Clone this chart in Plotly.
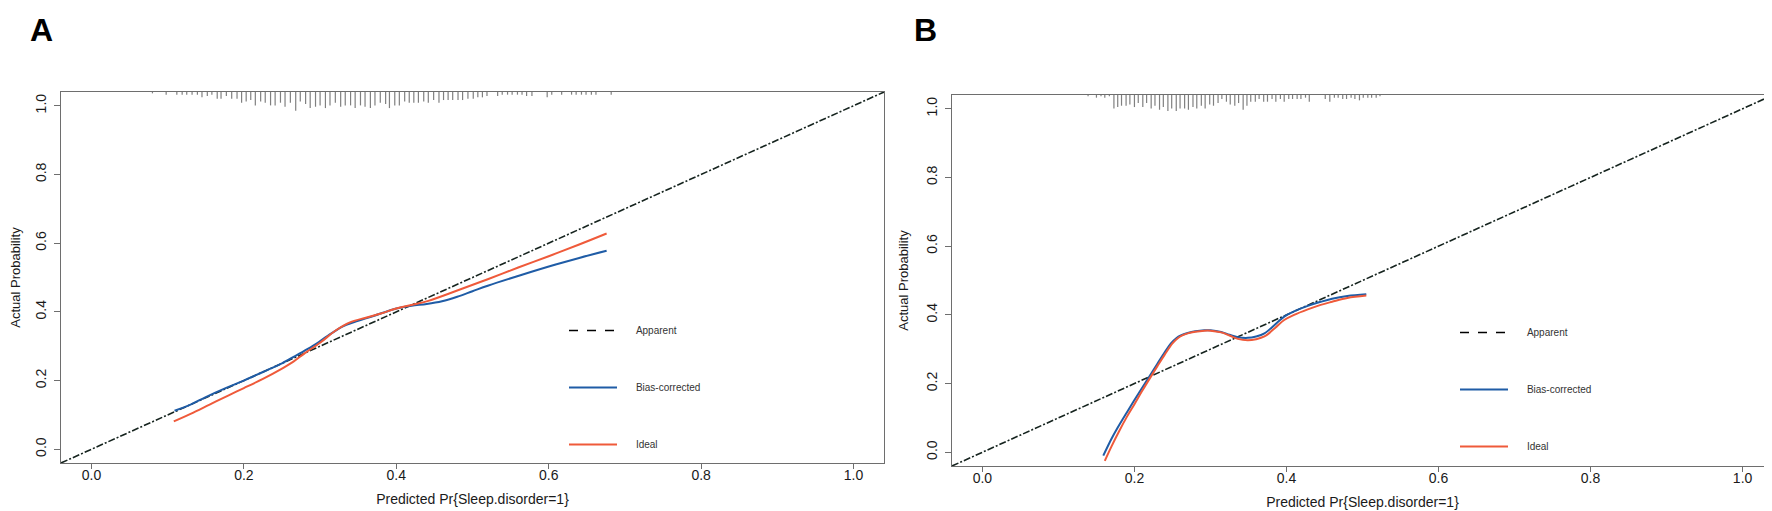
import plotly.graph_objects as go

# calibration curves, panel A
a_bias_x = [0.109, 0.13, 0.15, 0.176, 0.2, 0.225, 0.25, 0.27, 0.29, 0.31, 0.33, 0.345, 0.37, 0.40,
            0.42, 0.44, 0.46, 0.48, 0.50, 0.52, 0.565, 0.608, 0.64, 0.676]
a_bias_y = [0.112, 0.13, 0.152, 0.178, 0.2, 0.225, 0.25, 0.275, 0.30, 0.33, 0.358, 0.37, 0.388, 0.41,
            0.418, 0.423, 0.431, 0.444, 0.46, 0.476, 0.508, 0.537, 0.557, 0.578]
a_ideal_x = [0.108, 0.13, 0.155, 0.18, 0.2, 0.225, 0.25, 0.265, 0.28, 0.3, 0.32, 0.34, 0.36, 0.38,
             0.40, 0.42, 0.442, 0.48, 0.52, 0.56, 0.60, 0.64, 0.676]
a_ideal_y = [0.081, 0.103, 0.13, 0.157, 0.178, 0.205, 0.235, 0.255, 0.28, 0.31, 0.345, 0.37, 0.383, 0.395,
             0.41, 0.42, 0.432, 0.462, 0.495, 0.529, 0.562, 0.596, 0.628]

# calibration curves, panel B
b_bias_x = [0.159, 0.17, 0.178, 0.19, 0.20, 0.21, 0.22, 0.23, 0.24, 0.248, 0.255, 0.261, 0.27, 0.28,
            0.292, 0.30, 0.314, 0.325, 0.336, 0.349, 0.36, 0.371, 0.385, 0.397, 0.41, 0.428, 0.445,
            0.46, 0.48, 0.505]
b_bias_y = [-0.01, 0.04, 0.072, 0.116, 0.152, 0.187, 0.222, 0.257, 0.292, 0.317, 0.332, 0.340, 0.347, 0.352,
            0.355, 0.355, 0.35, 0.342, 0.335, 0.333, 0.337, 0.346, 0.372, 0.395, 0.41, 0.426, 0.438,
            0.447, 0.455, 0.46]
b_ideal_x = [0.161, 0.17, 0.18, 0.19, 0.20, 0.21, 0.221, 0.23, 0.24, 0.25, 0.257, 0.263, 0.27, 0.28,
             0.292, 0.30, 0.314, 0.325, 0.336, 0.349, 0.36, 0.371, 0.385, 0.397, 0.41, 0.428, 0.445,
             0.46, 0.48, 0.505]
b_ideal_y = [-0.025, 0.018, 0.062, 0.103, 0.14, 0.178, 0.218, 0.25, 0.285, 0.317, 0.332, 0.340, 0.346, 0.351,
             0.354, 0.354, 0.349, 0.34, 0.330, 0.326, 0.329, 0.337, 0.362, 0.385, 0.40, 0.416, 0.429,
             0.438, 0.449, 0.456]

# rug of predicted probabilities (position, relative frequency)
a_rug_x = [0.080, 0.098, 0.112, 0.119, 0.125, 0.132, 0.139, 0.145, 0.152, 0.158, 0.165, 0.170, 0.177,
           0.184, 0.191, 0.197, 0.203, 0.209, 0.215, 0.222, 0.228, 0.235, 0.241, 0.248, 0.254, 0.261,
           0.268, 0.274, 0.281, 0.287, 0.294, 0.300, 0.307, 0.313, 0.320, 0.327, 0.333, 0.340, 0.346,
           0.353, 0.359, 0.366, 0.372, 0.379, 0.386, 0.391, 0.398, 0.404, 0.411, 0.417, 0.423, 0.429,
           0.436, 0.442, 0.449, 0.456, 0.462, 0.468, 0.474, 0.481, 0.487, 0.494, 0.501, 0.507, 0.513,
           0.519, 0.533, 0.539, 0.546, 0.552, 0.559, 0.565, 0.571, 0.578, 0.598, 0.604, 0.617, 0.630,
           0.636, 0.643, 0.649, 0.656, 0.662, 0.682]
a_rug_n = [1, 2, 2, 2, 2, 2, 2, 4, 3, 2, 5, 5, 3,
           5, 5, 8, 7, 6, 10, 7, 8, 10, 10, 8, 11, 8,
           14, 7, 9, 12, 11, 10, 12, 10, 8, 11, 10, 10, 12,
           10, 11, 12, 10, 8, 9, 12, 10, 10, 7, 8, 8, 8,
           7, 8, 6, 8, 6, 6, 6, 6, 6, 5, 5, 4, 4,
           3, 3, 2, 2, 2, 2, 2, 3, 3, 4, 2, 2, 2,
           2, 2, 2, 2, 2, 2]
b_rug_x = [0.139, 0.150, 0.156, 0.161, 0.167, 0.173, 0.178, 0.183, 0.189, 0.194, 0.200, 0.205, 0.211,
           0.216, 0.222, 0.227, 0.233, 0.238, 0.244, 0.249, 0.255, 0.260, 0.266, 0.271, 0.277, 0.282,
           0.288, 0.293, 0.299, 0.304, 0.310, 0.315, 0.321, 0.326, 0.332, 0.337, 0.343, 0.348, 0.353,
           0.359, 0.364, 0.370, 0.375, 0.381, 0.386, 0.392, 0.397, 0.403, 0.408, 0.414, 0.419, 0.425,
           0.430, 0.451, 0.457, 0.463, 0.468, 0.474, 0.479, 0.485, 0.490, 0.496, 0.501, 0.507, 0.512,
           0.518, 0.523]
b_rug_n = [1, 2, 1, 2, 1, 10, 9, 8, 8, 7, 9, 6, 9,
           6, 10, 8, 11, 9, 12, 10, 12, 10, 10, 11, 9, 10,
           8, 10, 7, 8, 6, 3, 5, 7, 8, 6, 11, 8, 5,
           5, 3, 5, 5, 3, 5, 3, 5, 3, 3, 3, 3, 2,
           5, 3, 5, 2, 2, 3, 3, 2, 3, 4, 2, 2, 2,
           2, 1]

tick_vals = [0.0, 0.2, 0.4, 0.6, 0.8, 1.0]
tick_text = ["0.0", "0.2", "0.4", "0.6", "0.8", "1.0"]
axis_range = [-0.04, 1.04]

BLUE = "#1f5ca6"
RED = "#ef5a3a"
DIAG = "#16241f"
FONT = "Liberation Sans, Arial, sans-serif"
RUG_UNIT = 0.0039
PAD = "\u00a0" * 5  # space between legend sample and label


def rug(xs, counts, xa, ya):
    x, y = [], []
    for xv, c in zip(xs, counts):
        x += [xv, xv, None]
        y += [axis_range[1], axis_range[1] - c * RUG_UNIT, None]
    return go.Scatter(x=x, y=y, mode="lines", line=dict(color="#808080", width=1.2),
                      xaxis=xa, yaxis=ya, showlegend=False, hoverinfo="skip")


fig = go.Figure()

panels = [
    ("x", "y", "legend", a_bias_x, a_bias_y, a_ideal_x, a_ideal_y, a_rug_x, a_rug_n),
    ("x2", "y2", "legend2", b_bias_x, b_bias_y, b_ideal_x, b_ideal_y, b_rug_x, b_rug_n),
]
for xa, ya, lg, bx, by, ix, iy, rx, rn in panels:
    fig.add_trace(rug(rx, rn, xa, ya))
    # diagonal reference line
    fig.add_trace(go.Scatter(x=axis_range, y=axis_range, mode="lines", showlegend=False,
                             line=dict(color=DIAG, width=1.6, dash="7px,2px,2px,2px"),
                             xaxis=xa, yaxis=ya, hoverinfo="skip"))
    # legend key for the dashed line
    fig.add_trace(go.Scatter(x=[None], y=[None], mode="lines", name=PAD + "Apparent",
                             line=dict(color="black", width=1.6, dash="dash"),
                             xaxis=xa, yaxis=ya, legend=lg, legendgroup="app"))
    fig.add_trace(go.Scatter(x=bx, y=by, mode="lines", name=PAD + "Bias-corrected",
                             line=dict(color=BLUE, width=2, shape="spline"),
                             xaxis=xa, yaxis=ya, legend=lg, legendgroup="bias"))
    fig.add_trace(go.Scatter(x=ix, y=iy, mode="lines", name=PAD + "Ideal",
                             line=dict(color=RED, width=2, shape="spline"),
                             xaxis=xa, yaxis=ya, legend=lg, legendgroup="ideal"))

W, H = 1772, 511


def xdom(l, r):
    return [l / W, r / W]


def ydom(t, b):
    return [1 - b / H, 1 - t / H]


axis_common = dict(range=axis_range, tickvals=tick_vals, ticktext=tick_text,
                   showline=True, mirror=True, linecolor="#6e6e6e", linewidth=1,
                   ticks="outside", tickcolor="#6e6e6e", showgrid=False,
                   zeroline=False, tickfont=dict(family=FONT, size=14, color="#1a1a1a"))
x_common = dict(ticklen=5, ticklabelstandoff=-6, **axis_common)
y_common = dict(ticklen=6, ticklabelstandoff=2, tickangle=-90, **axis_common)

xtitle = dict(text="Predicted Pr{Sleep.disorder=1}", font=dict(family=FONT, size=14, color="#1a1a1a"),
              standoff=12)
ytitle = dict(text="Actual Probability", font=dict(family=FONT, size=13, color="#1a1a1a"),
              standoff=12)

legend_common = dict(font=dict(family=FONT, size=10, color="#333333"), bgcolor="rgba(0,0,0,0)",
                     tracegroupgap=38, itemwidth=48, xanchor="left", yanchor="top",
                     traceorder="grouped")

fig.update_layout(
    width=W, height=H,
    margin=dict(l=0, r=0, t=0, b=0),
    paper_bgcolor="white", plot_bgcolor="white",
    xaxis=dict(domain=xdom(53, 876), anchor="y", title=xtitle, **x_common),
    yaxis=dict(domain=ydom(84, 455), anchor="x", title=ytitle, **y_common),
    xaxis2=dict(domain=xdom(944, 1765), anchor="y2", title=xtitle, **x_common),
    yaxis2=dict(domain=ydom(87, 458), anchor="x2", title=ytitle, **y_common),
    legend=dict(x=556 / W, y=1 - 308 / H, **legend_common),
    legend2=dict(x=1447 / W, y=1 - 310 / H, **legend_common),
    annotations=[
        dict(text="<b>A</b>", x=33 / W, y=1 - 22 / H, xref="paper", yref="paper",
             xanchor="center", yanchor="middle", showarrow=False,
             font=dict(family=FONT, size=32, color="black")),
        dict(text="<b>B</b>", x=918 / W, y=1 - 22 / H, xref="paper", yref="paper",
             xanchor="center", yanchor="middle", showarrow=False,
             font=dict(family=FONT, size=32, color="black")),
    ],
)

fig.write_html("out.html")
